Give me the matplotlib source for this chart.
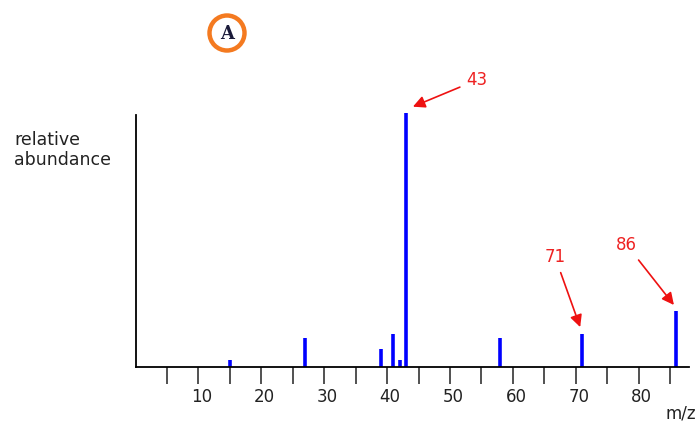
import matplotlib
matplotlib.use('Agg')
import matplotlib.pyplot as plt
from matplotlib.patches import Circle
from matplotlib.transforms import ScaledTranslation

# mass spectrum peaks (m/z, relative abundance)
mz = [15, 27, 39, 41, 42, 43, 58, 71, 86]
abundance = [2.9, 11.3, 7.0, 13.1, 2.9, 100, 11.3, 13.1, 21.9]

tick_pos = [5, 10, 15, 20, 25, 30, 35, 40, 45, 50, 55, 60, 65, 70, 75, 80, 85]
tick_text = ['', '10', '', '20', '', '30', '', '40', '', '50', '', '60', '', '70', '', '80', '']

# labelled peaks: (label, peak m/z, text x, text y)
callouts = [
    ('43', 43, 54.3, 112.9),
    ('71', 71, 66.7, 43.3),
    ('86', 86, 78.1, 48.0),
]
# where each arrow tip sits relative to the top of its peak
tip_offsets = [(1.1, 2.4), (-0.3, 2.6), (-0.4, 2.5)]

plt.rcParams['font.family'] = ['DejaVu Sans']

fig = plt.figure(figsize=(7, 4.28), dpi=100)
ax = fig.add_axes([0.1936, 0.1425, 0.7907, 0.594])

ax.vlines(mz, 0, abundance, colors='#0000ff', linewidth=2.6)

ax.set_xlim(0, 88)
ax.set_ylim(0, 100)
for side in ('top', 'right'):
    ax.spines[side].set_visible(False)
ax.spines['left'].set_bounds(0, 99)
ax.spines['left'].set_linewidth(1.3)
ax.spines['bottom'].set_linewidth(1.3)

ax.set_yticks([])
ax.set_xticks(tick_pos)
ax.set_xticklabels(tick_text, fontsize=12, color='#222222')
ax.tick_params(axis='x', direction='out', length=12, width=1.2,
               color='#333333', pad=3)
shift = ScaledTranslation(3 / 100, 0, fig.dpi_scale_trans)
for lbl in ax.get_xticklabels():
    lbl.set_transform(lbl.get_transform() + shift)

for (label, x, tx, ty), (dx, dy) in zip(callouts, tip_offsets):
    y = abundance[mz.index(x)]
    ax.annotate(label, xy=(x + dx, y + dy), xytext=(tx, ty),
                ha='center', va='center', fontsize=12, color='#ee2222',
                annotation_clip=False,
                arrowprops=dict(arrowstyle='-|>', color='#ee1111', lw=1.2,
                                mutation_scale=18, shrinkA=3, shrinkB=0))

fig.text(14 / 700, 1 - 150 / 428, 'relative\nabundance', ha='left',
         va='center', fontsize=12.5, color='#222222', linespacing=1.1)
fig.text(681 / 700, 1 - 413 / 428, 'm/z', ha='center', va='center',
         fontsize=12, color='#222222')

# circled panel letter
ring = Circle((2.27, 3.95), 0.175, transform=fig.dpi_scale_trans,
              fill=False, edgecolor='#f47a20', linewidth=3.2)
fig.add_artist(ring)
fig.text(2.27 / 7, 3.945 / 4.28, 'A', ha='center', va='center',
         fontsize=13, fontweight='bold', family='DejaVu Serif',
         color='#1b1b3a')

fig.savefig('out.png', dpi=100)
